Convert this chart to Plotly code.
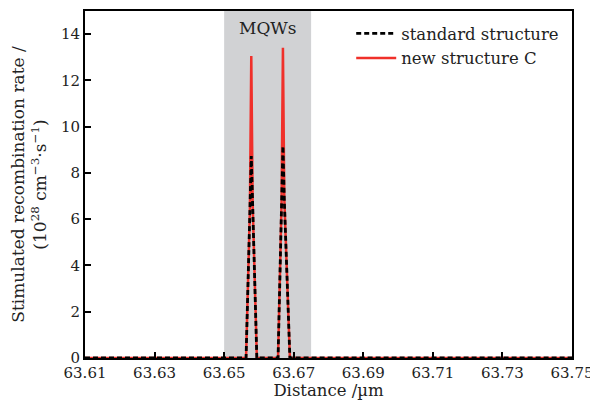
import plotly.graph_objects as go

# Data (distance in µm, rate in 1e28 cm^-3 s^-1)
distance = [63.61, 63.6500, 63.6563, 63.6574, 63.6578, 63.6582, 63.6594,
            63.6655, 63.6665, 63.6669, 63.6673, 63.6689, 63.70, 63.75]
standard_structure = [0, 0, 0, 6.3, 8.73, 6.6, 0,
                      0, 6.6, 9.16, 6.8, 0, 0, 0]
new_structure_c = [0, 0, 0, 6.4, 13.05, 6.7, 0,
                   0, 6.7, 13.41, 6.9, 0, 0, 0]

x_ticks = [63.61, 63.63, 63.65, 63.67, 63.69, 63.71, 63.73, 63.75]
y_ticks = [0, 2, 4, 6, 8, 10, 12, 14]
mqw_region = [63.65, 63.675]

FONT = "DejaVu Serif"

fig = go.Figure()
fig.add_vrect(x0=mqw_region[0], x1=mqw_region[1], fillcolor="#d1d2d4",
              line_width=0, layer="below")

fig.add_trace(go.Scatter(x=distance, y=new_structure_c, mode="lines",
                         name="new structure C", legendrank=2,
                         line=dict(color="#f0302a", width=2.5)))
fig.add_trace(go.Scatter(x=distance, y=standard_structure, mode="lines",
                         name="standard structure", legendrank=1,
                         line=dict(color="black", width=2.8, dash="5px,3px")))

fig.add_annotation(x=sum(mqw_region) / 2, y=14.25, text="MQWs", showarrow=False,
                   font=dict(family=FONT, size=17, color="#222"))

fig.update_layout(
    width=590, height=392,
    margin=dict(l=77, r=26, t=3, b=42),
    plot_bgcolor="white", paper_bgcolor="white",
    font=dict(family=FONT, size=15, color="#222"),
    showlegend=True,
    legend=dict(x=0.984, y=0.985, xanchor="right", yanchor="top",
                bgcolor="rgba(0,0,0,0)", font=dict(family=FONT, size=16.5),
                tracegroupgap=0, itemwidth=40),
    xaxis=dict(range=[63.61, 63.75], tickvals=x_ticks,
               ticktext=[f"{v:.2f}" for v in x_ticks], automargin=False,
               ticks="inside", ticklen=6, tickwidth=2, tickcolor="black",
               showline=True, linecolor="black", linewidth=2, mirror=True,
               showgrid=False, zeroline=False,
               title=dict(text="Distance /µm", standoff=3,
                          font=dict(family=FONT, size=16.5))),
    yaxis=dict(range=[0, 15], tickvals=y_ticks, automargin=False,
               ticks="inside", ticklen=6, tickwidth=2, tickcolor="black",
               showline=True, linecolor="black", linewidth=2, mirror=True,
               showgrid=False, zeroline=False,
               title=dict(text="Stimulated recombination rate /<br>(10<sup>28</sup> cm<sup>−3</sup>·s<sup>−1</sup>)",
                          standoff=10, font=dict(family=FONT, size=17))),
)

fig.write_html("out.html")
